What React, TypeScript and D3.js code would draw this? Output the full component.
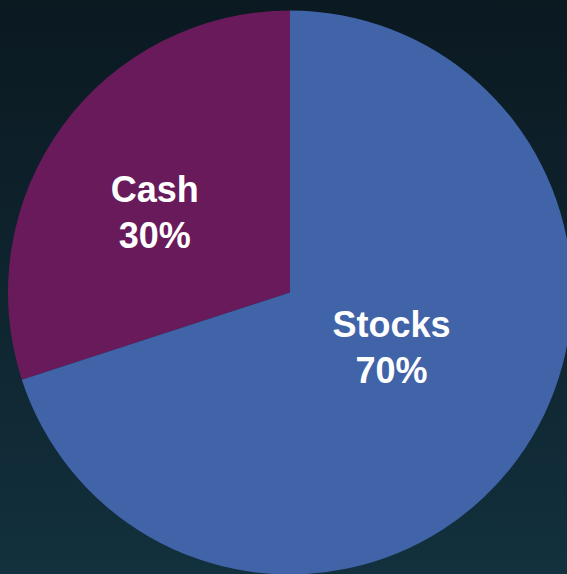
import React from "react";
import * as d3 from "d3";

const categories = ["Cash", "Stocks"];
const values = [30, 70];
const labels = ["30%", "70%"];
const colors = ["#691a5b", "#4163a8"];

const W = 567;
const H = 574;
const CX = 290;
const CY = 292.5;
const R = 282;
const labelRadiusFactor = [0.56, 0.41];
const labelNudge: [number, number][] = [[-7.5, 2.5], [8, -23.5]];

export default function App() {
  const pie = d3
    .pie<number>()
    .sort(null)
    .startAngle(0)
    .endAngle(-2 * Math.PI)
    .value((d) => d);
  const arcs = pie(values);
  const arc = d3.arc<d3.PieArcDatum<number>>().innerRadius(0).outerRadius(R);

  return (
    <svg
      width={W}
      height={H}
      style={{ position: "absolute", left: 0, top: 0, display: "block" }}
    >
      <defs>
        <linearGradient id="bg" x1="0" y1="0" x2="0" y2="1">
          <stop offset="0%" stopColor="#0b1921" />
          <stop offset="100%" stopColor="#12303d" />
        </linearGradient>
      </defs>
      <rect x={0} y={0} width={W} height={H} fill="url(#bg)" />
      <g transform={`translate(${CX},${CY})`}>
        {arcs.map((a, i) => (
          <path key={categories[i]} d={arc(a) || ""} fill={colors[i]} />
        ))}
        {arcs.map((a, i) => {
          const lr = R * labelRadiusFactor[i];
          const la = d3.arc<d3.PieArcDatum<number>>().innerRadius(lr).outerRadius(lr);
          const [x, y] = la.centroid(a);
          const tx = x + labelNudge[i][0];
          const ty = y + labelNudge[i][1];
          return (
            <text
              key={"l" + categories[i]}
              x={tx}
              y={ty}
              textAnchor="middle"
              fill="#ffffff"
              fontFamily="'Liberation Sans', Arial, sans-serif"
              fontWeight="bold"
              fontSize={36}
            >
              <tspan x={tx} y={ty}>{categories[i]}</tspan>
              <tspan x={tx} y={ty + 46}>{labels[i]}</tspan>
            </text>
          );
        })}
      </g>
    </svg>
  );
}
